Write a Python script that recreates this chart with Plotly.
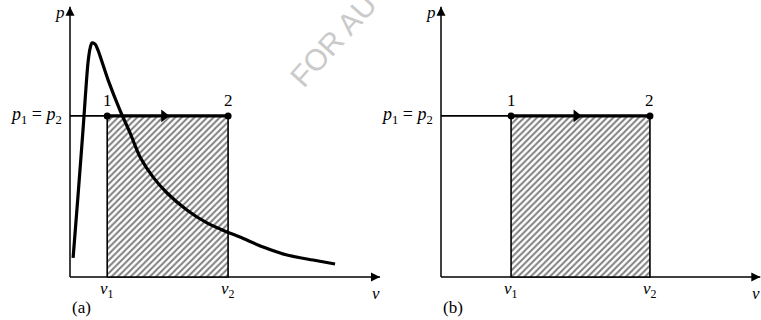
import plotly.graph_objects as go

# ---- data -------------------------------------------------------------
# (a) real-gas isotherm sketched in the p-v plane
curve_v = [0.10, 0.26, 0.42, 0.58, 0.65, 0.71, 0.81, 0.90, 1.23, 1.61, 1.94,
           2.26, 2.68, 3.13, 3.77, 4.42, 5.06, 5.48, 6.23, 7.00, 7.84, 8.55]
curve_p = [0.72, 3.09, 5.55, 8.08, 8.64, 8.83, 8.79, 8.57, 7.43, 6.30, 5.43,
           4.53, 3.77, 3.17, 2.53, 2.04, 1.70, 1.51, 1.13, 0.83, 0.64, 0.49]

# constant-pressure process 1 -> 2 in each panel
p_const = 6.08
v_states_a = [1.2, 5.1]
v_states_b = [2.26, 6.74]
state_labels = ["1", "2"]
v_tick_labels = ["<i>v</i><sub>1</sub>", "<i>v</i><sub>2</sub>"]
panel_labels = ["(a)", "(b)"]

# axis extents (data units)
v_axis_end_a = 10.0
v_axis_end_b = 10.3
p_axis_end = 10.2

W, H = 761, 320
PX_V, PX_P = 31.0, 26.5          # pixels per data unit
FONT = dict(family="Liberation Serif, Times New Roman, serif", size=17, color="black")

fig = go.Figure()


def add_panel(xa, ya, v1v2, v_end, panel, with_curve):
    v1, v2 = v1v2
    common = dict(xaxis=xa, yaxis=ya, hoverinfo="skip", cliponaxis=False)
    # coordinate axes
    fig.add_trace(go.Scatter(x=[0, 0, None, 0, v_end], y=[0, p_axis_end, None, 0, 0],
                             mode="lines", line=dict(color="black", width=1.5), **common))
    fig.add_trace(go.Scatter(x=[0], y=[p_axis_end], mode="markers",
                             marker=dict(symbol="arrow-up", size=9, color="black"), **common))
    fig.add_trace(go.Scatter(x=[v_end], y=[0], mode="markers",
                             marker=dict(symbol="arrow-right", size=9, color="black"), **common))
    # hatched work area under the process line
    fig.add_trace(go.Scatter(
        x=[v1, v1, v2, v2, v1], y=[0, p_const, p_const, 0, 0],
        mode="lines", fill="toself", fillcolor="white",
        fillpattern=dict(shape="/", fgcolor="black", bgcolor="white",
                         size=4.5, solidity=0.45),
        line=dict(color="black", width=1.6), **common))
    if with_curve:
        fig.add_trace(go.Scatter(
            x=curve_v, y=curve_p, mode="lines",
            line=dict(color="black", width=3.2, shape="spline", smoothing=0.8),
            **common))
    # thin part of the p = const line from the axis to state 1
    fig.add_trace(go.Scatter(x=[0, v1], y=[p_const, p_const], mode="lines",
                             line=dict(color="black", width=1.8), **common))
    # heavy process line 1 -> 2
    fig.add_trace(go.Scatter(x=[v1, v2], y=[p_const, p_const], mode="lines",
                             line=dict(color="black", width=3.4), **common))
    # direction arrow along the process
    fig.add_trace(go.Scatter(x=[v1 + 0.47 * (v2 - v1)], y=[p_const], mode="markers",
                             marker=dict(symbol="triangle-right", size=11, color="black"),
                             **common))
    # state points
    fig.add_trace(go.Scatter(x=[v1, v2], y=[p_const, p_const], mode="markers",
                             marker=dict(symbol="circle", size=7, color="black"),
                             **common))

    # state numbers
    for v, lab in zip(v1v2, state_labels):
        fig.add_annotation(x=v, y=p_const, xref=xa, yref=ya, text=lab,
                           showarrow=False, yshift=15, font=FONT)
    # v1, v2 under the axis
    for v, lab in zip(v1v2, v_tick_labels):
        fig.add_annotation(x=v, y=0, xref=xa, yref=ya, text=lab,
                           showarrow=False, yshift=-13, font=FONT)
    # axis titles
    fig.add_annotation(x=0, y=p_axis_end, xref=xa, yref=ya, text="<i>p</i>",
                       showarrow=False, xshift=-10, yshift=-6, font=FONT)
    fig.add_annotation(x=v_end, y=0, xref=xa, yref=ya, text="<i>v</i>",
                       showarrow=False, xshift=-4, yshift=-16, font=FONT)
    fig.add_annotation(x=0, y=p_const, xref=xa, yref=ya,
                       text="<i>p</i><sub>1</sub> = <i>p</i><sub>2</sub>",
                       xanchor="right", showarrow=False, xshift=-6,
                       font=dict(FONT, size=18))
    fig.add_annotation(x=0, y=0, xref=xa, yref=ya, text=panel,
                       xanchor="left", showarrow=False, xshift=0, yshift=-30,
                       font=FONT)


add_panel("x", "y", v_states_a, v_axis_end_a, panel_labels[0], True)
add_panel("x2", "y2", v_states_b, v_axis_end_b, panel_labels[1], False)

# faint watermark running off the top edge
fig.add_annotation(x=0.4376, y=0.875, xref="paper", yref="paper",
                   xanchor="center", yanchor="middle",
                   text="FOR AU", showarrow=False, textangle=-48,
                   font=dict(family="Liberation Sans, Arial, sans-serif",
                             size=30, color="#cacaca"))

# origins: panel (a) at (70, 277) px, panel (b) at (441, 277) px
hidden = dict(visible=False, showgrid=False, zeroline=False, fixedrange=True)
split = 400
fig.update_layout(
    width=W, height=H, margin=dict(l=0, r=0, t=0, b=0),
    paper_bgcolor="white", plot_bgcolor="white", showlegend=False,
    xaxis=dict(domain=[0, split / W], range=[-70 / PX_V, (split - 70) / PX_V], **hidden),
    yaxis=dict(domain=[0, 1], range=[-(H - 277) / PX_P, 277 / PX_P], **hidden),
    xaxis2=dict(domain=[split / W, 1], range=[(split - 441) / PX_V, (W - 441) / PX_V],
                anchor="y2", **hidden),
    yaxis2=dict(domain=[0, 1], range=[-(H - 277) / PX_P, 277 / PX_P], anchor="x2", **hidden),
)

fig.write_html("out.html")
